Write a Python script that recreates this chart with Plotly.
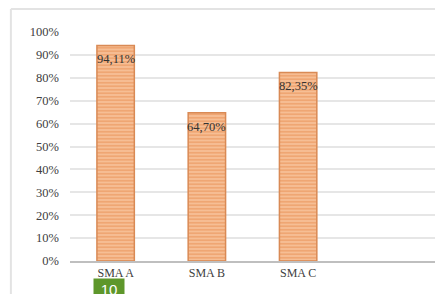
import plotly.graph_objects as go

categories = ["SMA A", "SMA B", "SMA C", " "]
values = [0.9411, 0.6470, 0.8235, None]
labels = ["94,11%", "64,70%", "82,35%", ""]
tick_vals = [0, 0.1, 0.2, 0.3, 0.4, 0.5, 0.6, 0.7, 0.8, 0.9, 1.0]
tick_text = ["0%", "10%", "20%", "30%", "40%", "50%", "60%", "70%", "80%", "90%", "100%"]

serif = "Liberation Serif, DejaVu Serif, serif"

fig = go.Figure()
fig.add_trace(go.Bar(
    x=categories, y=values, width=0.41,
    marker=dict(color="#F3AE7C",
                line=dict(color="#D98A55", width=1.5),
                pattern=dict(shape="-", fgcolor="#E8894A", bgcolor="#F6BE94", size=3.5, solidity=0.45)),
    hoverinfo="skip",
))

for c, v, t in zip(categories, values, labels):
    if v is not None:
        fig.add_annotation(x=c, y=v, text=t, showarrow=False, yshift=-14,
                           font=dict(family=serif, size=12.5, color="#333333"))

fig.add_annotation(xref="paper", yref="paper", x=0.107, y=-0.075, text="10", showarrow=False,
                   bgcolor="#5E972B", font=dict(family="Liberation Sans, Arial", size=15, color="white"),
                   borderpad=1, width=28, height=18, xanchor="center", yanchor="top")

fig.update_layout(
    width=443, height=294,
    margin=dict(l=62, r=16, t=24, b=41),
    paper_bgcolor="white", plot_bgcolor="white",
    showlegend=False,
    xaxis=dict(type="category", range=[-0.5, 3.5], showgrid=False, ticks="",
               showline=True, linecolor="#BFBFBF", linewidth=2,
               tickfont=dict(family=serif, size=12, color="#404040")),
    yaxis=dict(range=[0, 1.0], tickvals=tick_vals, ticktext=tick_text,
               showgrid=True, gridcolor="#E6E6E6", gridwidth=2, zeroline=False,
               tickfont=dict(family=serif, size=12.5, color="#404040"), ticklabelstandoff=10),
    shapes=[
        dict(type="line", xref="paper", yref="paper", x0=-0.162, x1=1.05, y0=1.1, y1=1.1,
             line=dict(color="#E3E3E3", width=2)),
        dict(type="line", xref="paper", yref="paper", x0=-0.162, x1=-0.162, y0=1.1, y1=-0.2,
             line=dict(color="#E3E3E3", width=2)),
    ],
)

fig.write_html("out.html")
